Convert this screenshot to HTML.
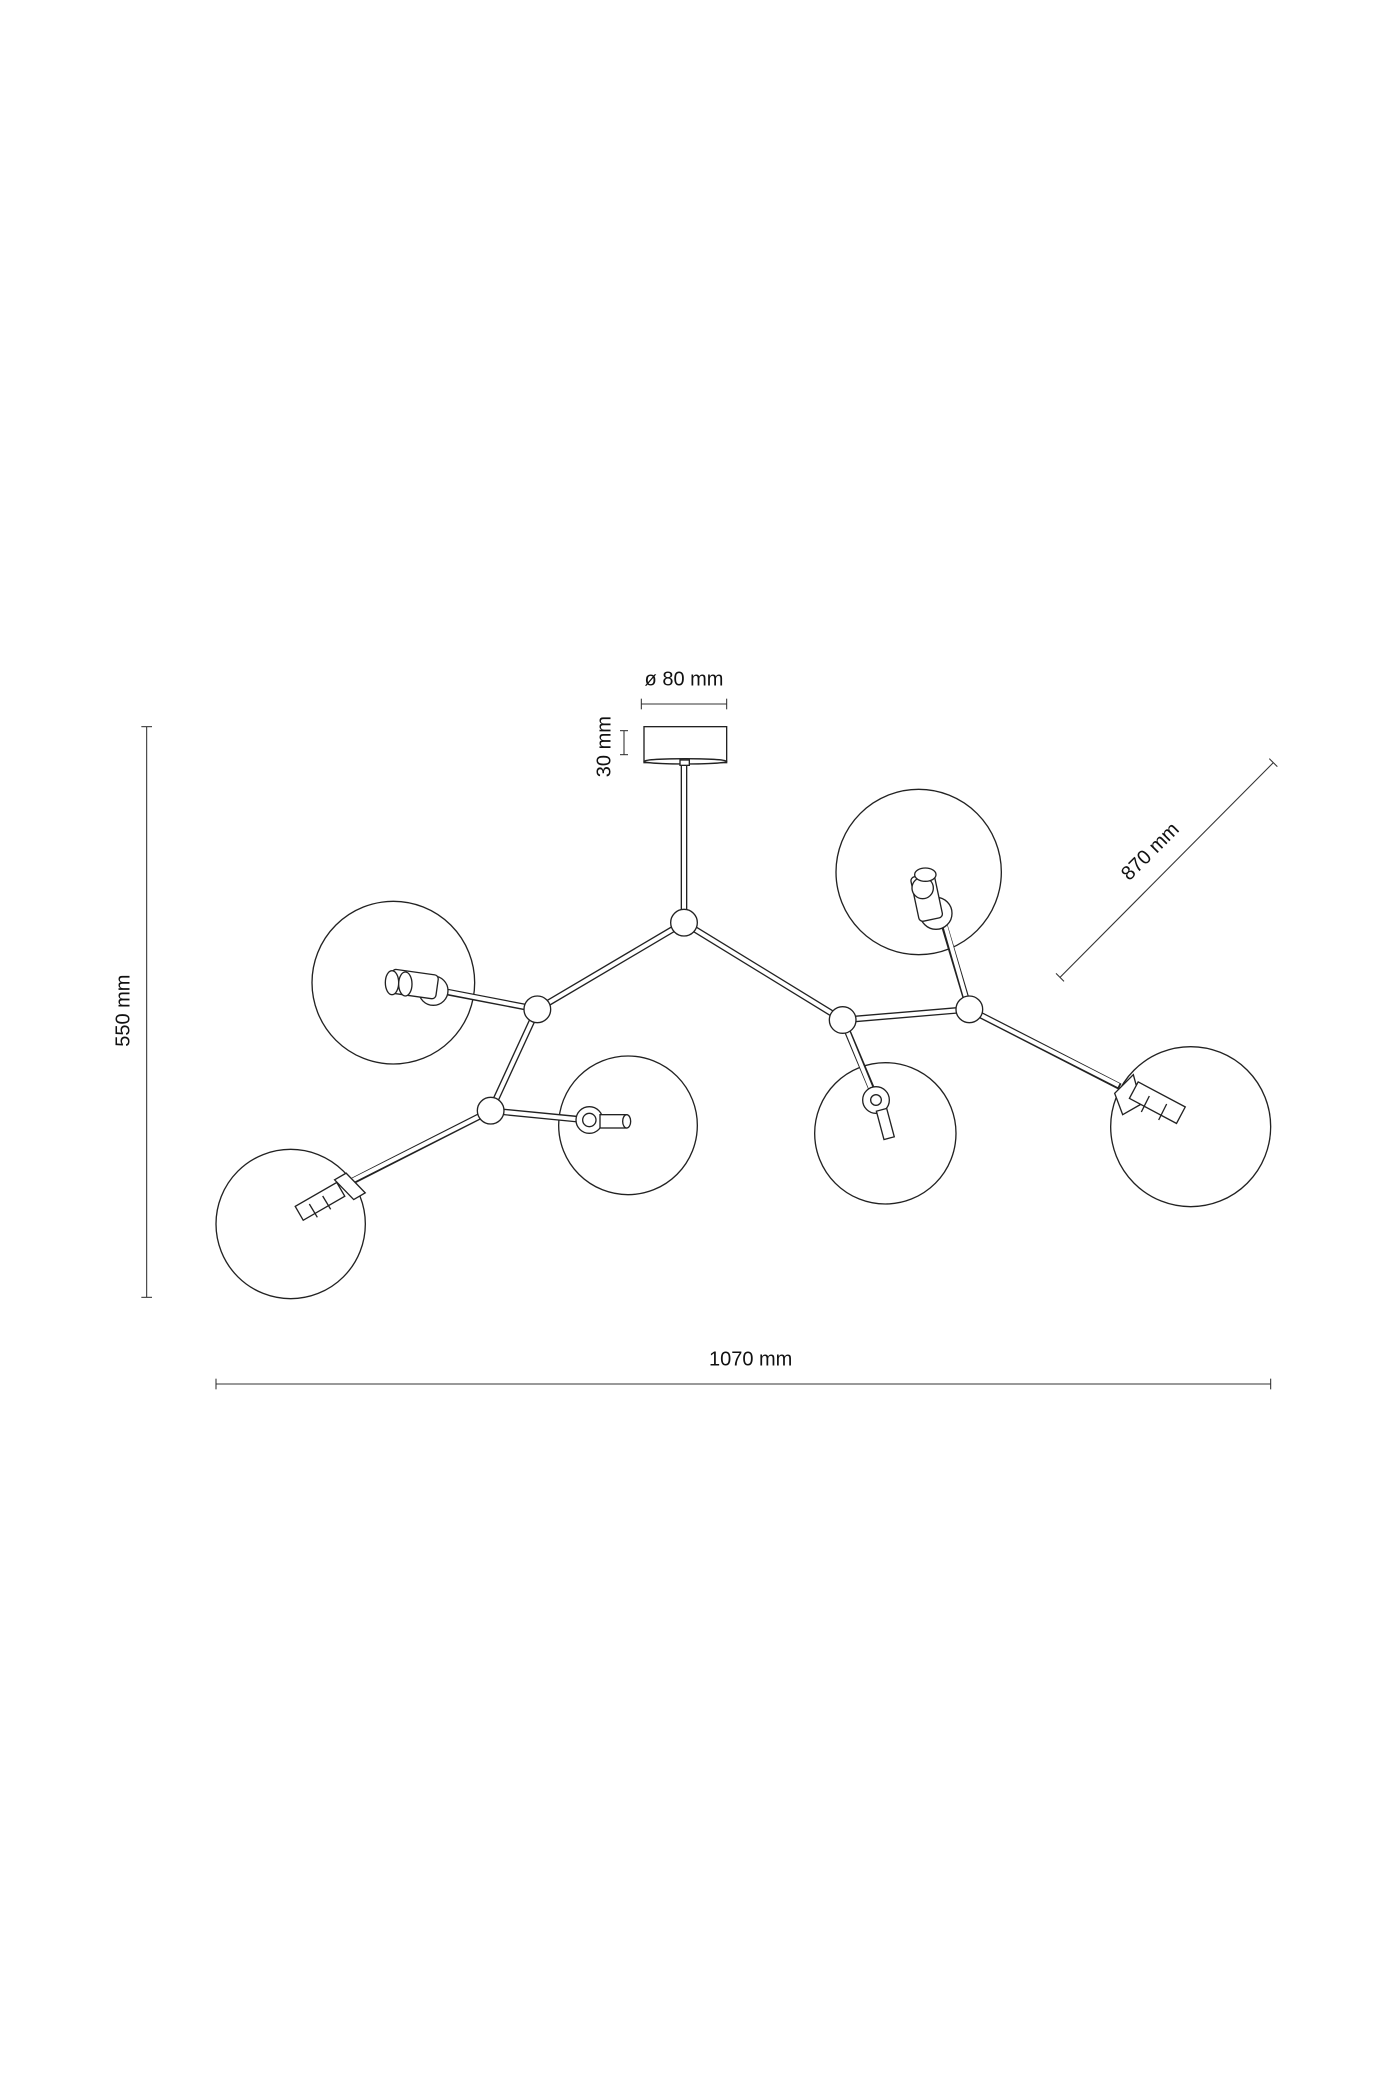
<!DOCTYPE html>
<html><head><meta charset="utf-8"><style>
html,body{margin:0;padding:0;background:#fff;}
svg{display:block;}
text{font-family:"Liberation Sans",sans-serif;fill:#111;}
</style></head><body>
<svg width="1400" height="2100" viewBox="0 0 1050 1575" xmlns="http://www.w3.org/2000/svg">
<g fill="none" stroke="#222" stroke-width="1">
<!-- globes -->
<circle cx="295" cy="737" r="61"/>
<circle cx="218" cy="918" r="56"/>
<circle cx="471" cy="844" r="52"/>
<circle cx="689" cy="654" r="62"/>
<circle cx="664" cy="850" r="53"/>
<circle cx="893" cy="845" r="60"/>
</g>
<!-- rods -->
<g stroke-linecap="butt">
<g stroke="#222" stroke-width="5">
<line x1="513" y1="572" x2="513" y2="690"/>
<line x1="513" y1="692" x2="403" y2="757"/>
<line x1="513" y1="692" x2="632" y2="765"/>
<line x1="403" y1="757" x2="368" y2="833"/>
<line x1="403" y1="757" x2="330" y2="743"/>
<line x1="368" y1="833" x2="262" y2="887"/>
<line x1="368" y1="833" x2="440" y2="840"/>
<line x1="632" y1="765" x2="727" y2="757"/>
<line x1="632" y1="765" x2="656" y2="822"/>
<line x1="727" y1="757" x2="707" y2="690"/>
<line x1="727" y1="757" x2="840" y2="815"/>
</g>
<g stroke="#fff" stroke-width="3">
<line x1="513" y1="573" x2="513" y2="690"/>
<line x1="513" y1="692" x2="403" y2="757"/>
<line x1="513" y1="692" x2="632" y2="765"/>
<line x1="403" y1="757" x2="368" y2="833"/>
<line x1="403" y1="757" x2="331" y2="743"/>
<line x1="368" y1="833" x2="263" y2="886"/>
<line x1="368" y1="833" x2="439" y2="840"/>
<line x1="632" y1="765" x2="727" y2="757"/>
<line x1="632" y1="765" x2="655" y2="821"/>
<line x1="727" y1="757" x2="708" y2="691"/>
<line x1="727" y1="757" x2="839" y2="814"/>
</g>
</g>
<g fill="#fff" stroke="#222" stroke-width="1">
<!-- canopy -->
<rect x="483" y="545" width="62" height="27"/>
<ellipse cx="514" cy="571" rx="31" ry="2"/>
<rect x="510" y="570" width="7" height="4"/>
<!-- nodes -->
<circle cx="513" cy="692" r="10"/>
<circle cx="403" cy="757" r="10"/>
<circle cx="368" cy="833" r="10"/>
<circle cx="632" cy="765" r="10"/>
<circle cx="727" cy="757" r="10"/>
<!-- sockets -->
<!-- globe1 -->
<circle cx="325" cy="743" r="11"/>
<rect x="293" y="729" width="35" height="18" rx="3" transform="rotate(8 310 738)"/>
<ellipse cx="294" cy="737" rx="5" ry="9"/>
<ellipse cx="304" cy="738" rx="5" ry="9"/>
<!-- globe lower-left -->
<polygon points="255,880 265,880 270,900 260,900" transform="rotate(-30 262 890)"/>
<rect x="222" y="895" width="36" height="12" transform="rotate(-30 240 901)"/>
<line x1="232" y1="903" x2="238" y2="913" />
<line x1="242" y1="897" x2="248" y2="907" />
<!-- globe3 -->
<circle cx="442" cy="840" r="10"/>
<circle cx="442" cy="840" r="5"/>
<rect x="450" y="836" width="20" height="10"/>
<ellipse cx="470" cy="841" rx="3" ry="5"/>
<!-- top right globe -->
<circle cx="702" cy="685" r="12"/>
<rect x="686" y="656" width="18" height="34" rx="3" transform="rotate(-12 695 673)"/>
<ellipse cx="692" cy="666" rx="8" ry="8"/>
<ellipse cx="694" cy="656" rx="8" ry="5"/>
<!-- globe5 -->
<circle cx="657" cy="825" r="10"/>
<circle cx="657" cy="825" r="4"/>
<rect x="660" y="832" width="8" height="22" transform="rotate(-15 664 843)"/>
<!-- right globe -->
<polygon points="836,820 850,806 856,828 842,836"/>
<rect x="848" y="820" width="40" height="14" transform="rotate(28 868 827)"/>
<line x1="862" y1="822" x2="856" y2="834"/>
<line x1="875" y1="828" x2="869" y2="840"/>
</g>
<!-- dimensions -->
<g stroke="#333" stroke-width="0.8" fill="none">
<line x1="481" y1="528" x2="545" y2="528"/>
<line x1="481" y1="524" x2="481" y2="532"/>
<line x1="545" y1="524" x2="545" y2="532"/>
<line x1="468" y1="548" x2="468" y2="566"/>
<line x1="465" y1="548" x2="471" y2="548"/>
<line x1="465" y1="566" x2="471" y2="566"/>
<line x1="110" y1="545" x2="110" y2="973"/>
<line x1="106" y1="545" x2="114" y2="545"/>
<line x1="106" y1="973" x2="114" y2="973"/>
<line x1="162" y1="1038" x2="953" y2="1038"/>
<line x1="162" y1="1034" x2="162" y2="1042"/>
<line x1="953" y1="1034" x2="953" y2="1042"/>
<line x1="795" y1="733" x2="955" y2="572"/>
<line x1="792" y1="730" x2="798" y2="736"/>
<line x1="952" y1="569" x2="958" y2="575"/>
</g>
<text x="513" y="514" font-size="15" text-anchor="middle">ø 80 mm</text>
<text x="0" y="0" font-size="15" text-anchor="middle" transform="translate(458,560) rotate(-90)">30 mm</text>
<text x="0" y="0" font-size="15" text-anchor="middle" transform="translate(97,758) rotate(-90)">550 mm</text>
<text x="563" y="1024" font-size="15" text-anchor="middle">1070 mm</text>
<text x="0" y="0" font-size="15" text-anchor="middle" transform="translate(866,642) rotate(-45)">870 mm</text>
</svg>
</body></html>
